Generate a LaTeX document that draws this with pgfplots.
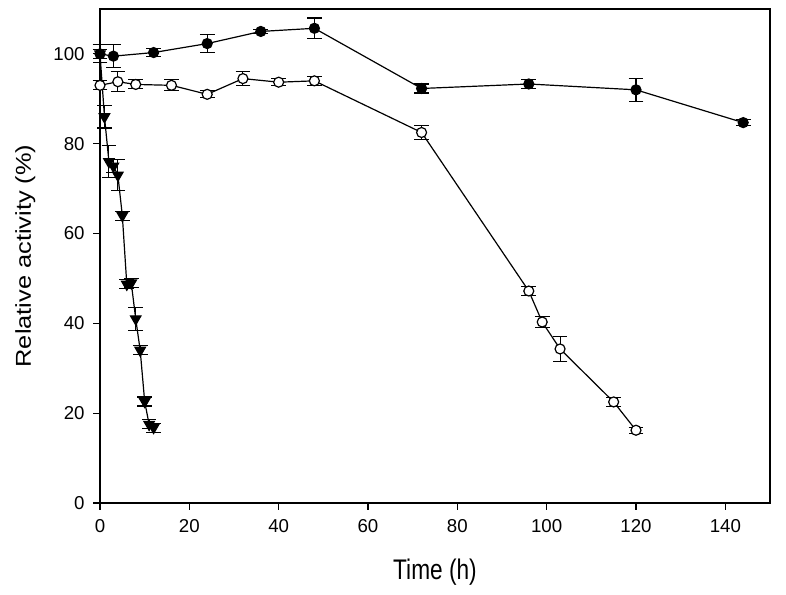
\documentclass[border=0pt]{standalone}
\usepackage{fontspec}
\setmainfont{Liberation Sans}
\usepackage{pgfplots}
\pgfplotsset{compat=1.18}
\begin{document}
\begin{tikzpicture}
\begin{axis}[
  scale only axis, width=502.5pt, height=370.5pt,
  xmin=0, xmax=150, ymin=0, ymax=110,
  xtick={0,20,...,140}, ytick={0,20,...,100},
  tick align=outside, tick pos=left,
  major tick length=5pt,
  every tick/.style={black, line width=0.9pt},
  axis line style={line width=1pt},
  ticklabel style={font=\fontsize{14}{16}\selectfont},
  xticklabel style={yshift=-4pt},
  yticklabel style={xshift=-3pt},
  /pgf/number format/assume math mode=true,
  xlabel={Time (h)}, ylabel={Relative activity (\%)},
  label style={font=\fontsize{17}{20}\selectfont},
  xlabel style={at={(rel axis cs:0.5,0)}, anchor=center, yshift=-51.75pt, yscale=1.25},
  ylabel style={at={(rel axis cs:0,0.5)}, anchor=center, yshift=56pt, xscale=1.12, yscale=0.95},
  clip=false,
  every axis plot/.append style={black, line width=0.9pt,
    error bars/y dir=both, error bars/y explicit,
    error bars/error bar style={line width=0.8pt},
    error bars/error mark options={rotate=90, mark size=5.5pt, line width=0.8pt}},
]
\coordinate (sw) at (rel axis cs:0,0);
\coordinate (ne) at (rel axis cs:1,1);
% triangles
\addplot[mark=triangle*, mark size=4.5pt, mark options={rotate=180, fill=black}]
  table[x=x, y=y, y error=e] {
x y e
0 100 1
1 86 2.5
2 76 3.5
3 75 1.5
4 73 3.5
5 64 1
6 48.7 1
7 49 1
8 41 2.5
9 34 1
10 22.6 1
11 17.5 1
12 16.8 1
};
% open circles
\addplot[mark=*, mark size=3.75pt, mark options={fill=white}]
  table[x=x, y=y, y error=e] {
x y e
0 93 1
4 93.8 2.2
8 93.2 1
16 93 1.2
24 91 0.8
32 94.5 1.5
40 93.7 0.8
48 94 1
72 82.5 1.5
96 47.2 1
99 40.3 1.2
103 34.3 2.7
115 22.5 1
120 16.2 0.7
};
% filled circles
\addplot[mark=*, mark size=3.75pt, mark options={fill=black}]
  table[x=x, y=y, y error=e] {
x y e
0 100 2
3 99.5 2.5
12 100.3 0.8
24 102.3 2
36 105 0.5
48 105.7 2.3
72 92.3 1
96 93.3 1
120 92 2.6
144 84.7 0.7
};
\end{axis}
\pgfresetboundingbox
\path ([shift={(-75pt,-69pt)}]sw) rectangle ([shift={(12pt,6.75pt)}]ne);
\end{tikzpicture}
\end{document}
